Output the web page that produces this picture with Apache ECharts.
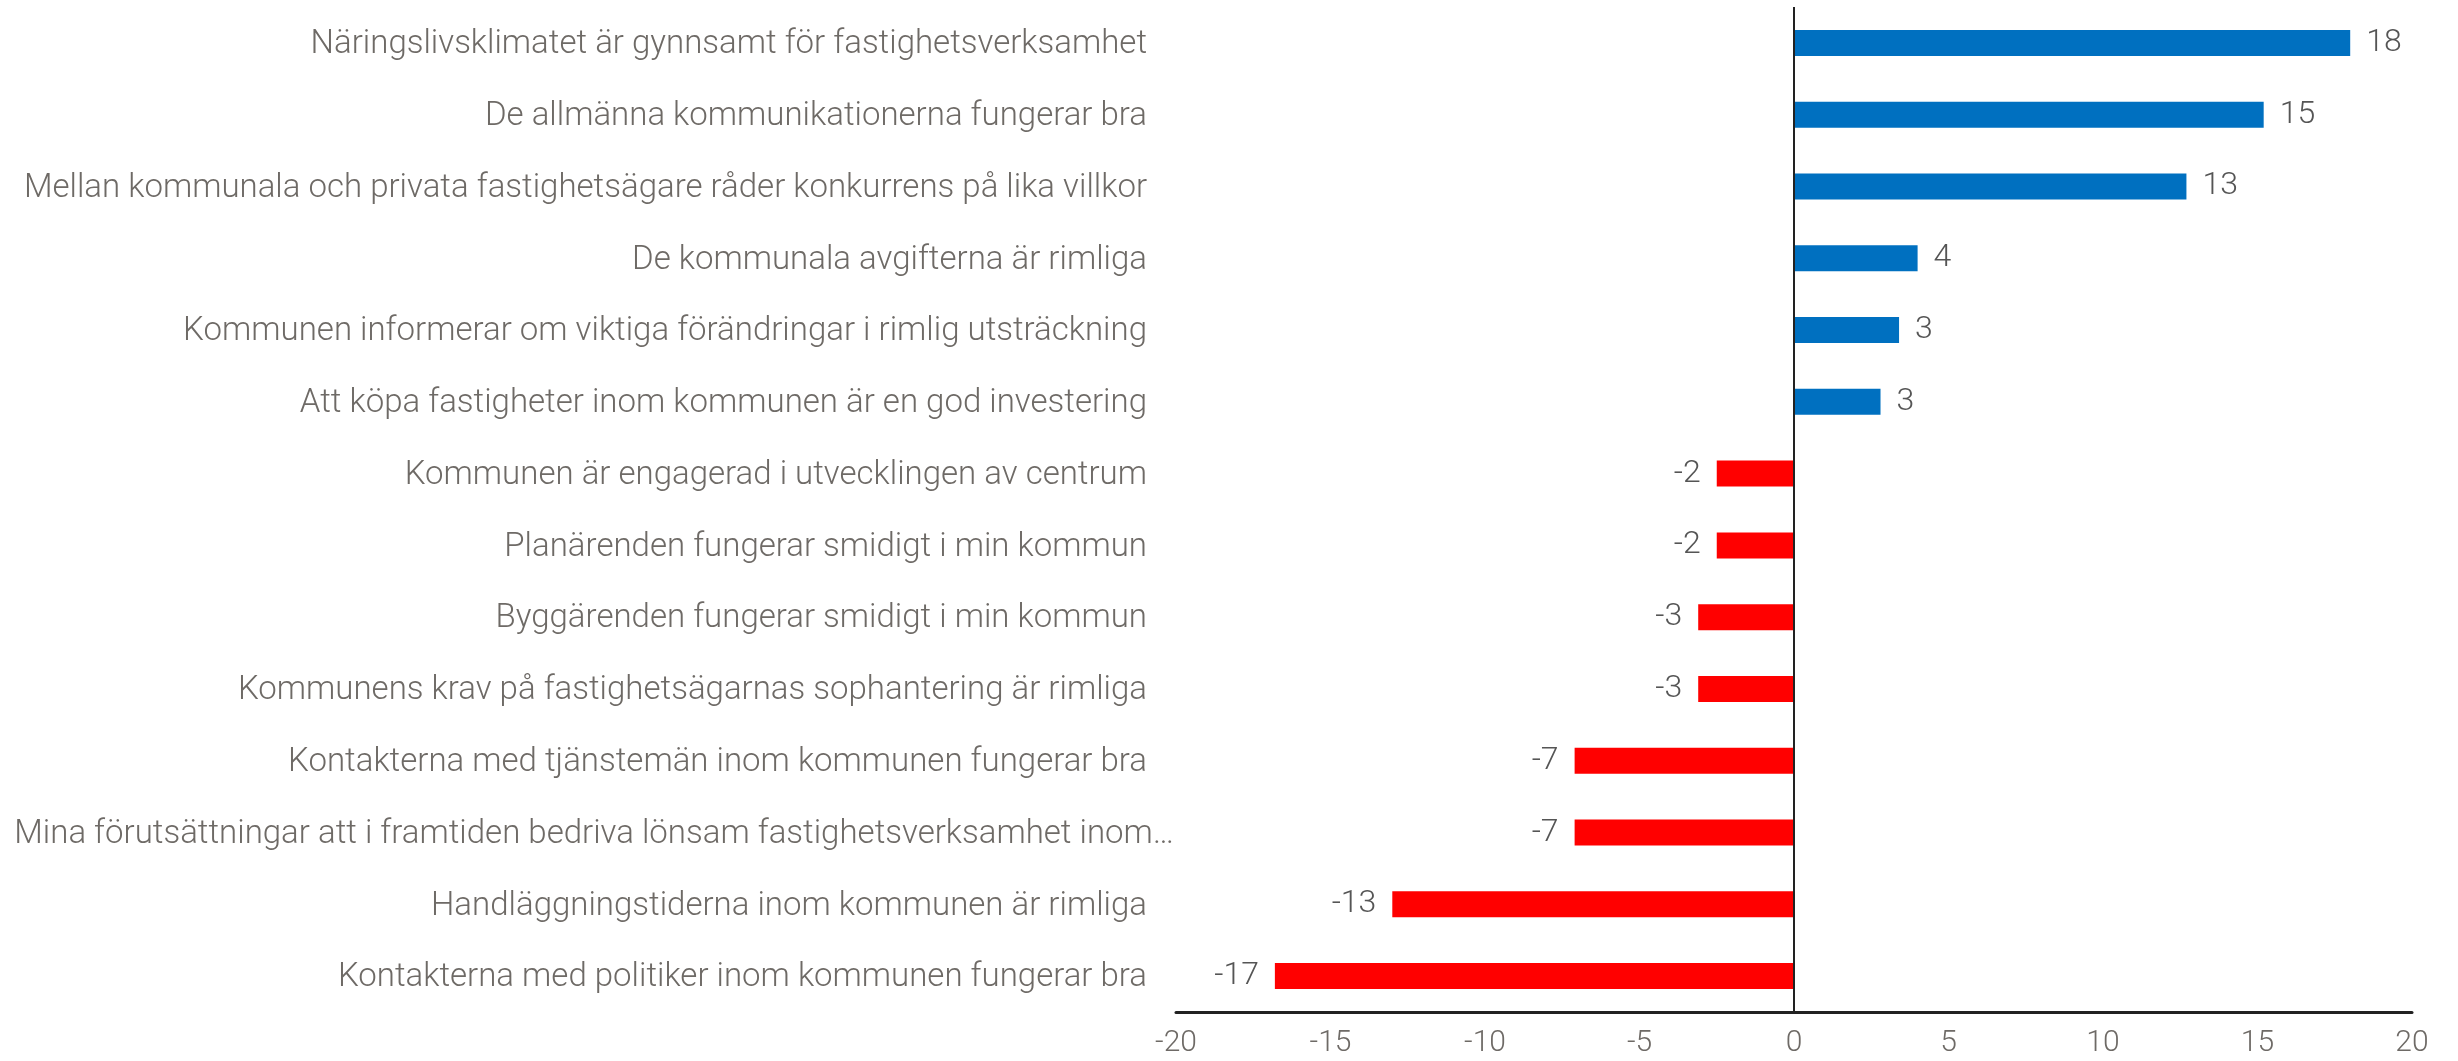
<!DOCTYPE html>
<html lang="sv">
<head>
    <meta charset="UTF-8">
    <title>Företagsklimat</title>
    <style>
        html, body {
            margin: 0;
            padding: 0;
            background: #ffffff;
        }

        #chart-canvas {
            width: 2458px;
            height: 1061px;
        }
    </style>
</head>
<body>
<div id="chart-canvas"></div>
<script src="https://cdn.jsdelivr.net/npm/echarts@6/dist/echarts.min.js"></script>
<script type="text/javascript">
    // påståenden, uppifrån och ned
    const categories = [
        "Näringslivsklimatet är gynnsamt för fastighetsverksamhet",
        "De allmänna kommunikationerna fungerar bra",
        "Mellan kommunala och privata fastighetsägare råder konkurrens på lika villkor",
        "De kommunala avgifterna är rimliga",
        "Kommunen informerar om viktiga förändringar i rimlig utsträckning",
        "Att köpa fastigheter inom kommunen är en god investering",
        "Kommunen är engagerad i utvecklingen av centrum",
        "Planärenden fungerar smidigt i min kommun",
        "Byggärenden fungerar smidigt i min kommun",
        "Kommunens krav på fastighetsägarnas sophantering är rimliga",
        "Kontakterna med tjänstemän inom kommunen fungerar bra",
        "Mina förutsättningar att i framtiden bedriva lönsam fastighetsverksamhet inom…",
        "Handläggningstiderna inom kommunen är rimliga",
        "Kontakterna med politiker inom kommunen fungerar bra"
    ];

    // nettovärden
    const values = [18, 15.2, 12.7, 4.0, 3.4, 2.8, -2.5, -2.5, -3.1, -3.1, -7.1, -7.1, -13.0, -16.8];

    const xTicks = [-20, -15, -10, -5, 0, 5, 10, 15, 20];

    const colorPos = "#0070C0";
    const colorNeg = "#FF0000";
    const labelFont = "Roboto";

    let myChart = echarts.init(document.getElementById('chart-canvas'));

    myChart.setOption({
        animation: false,
        grid: {
            left: 1176,
            right: 46,
            top: 7,
            bottom: 49
        },
        xAxis: {
            type: 'value',
            min: xTicks[0],
            max: xTicks[xTicks.length - 1],
            interval: 5,
            splitLine: {show: false},
            axisTick: {show: false},
            axisLine: {
                show: true,
                onZero: false,
                lineStyle: {color: '#222222', width: 3}
            },
            axisLabel: {
                margin: 16,
                fontFamily: labelFont,
                fontWeight: 300,
                fontSize: 30,
                color: '#6e6a66'
            }
        },
        yAxis: {
            type: 'category',
            inverse: true,
            data: categories,
            axisLine: {show: false},
            axisTick: {show: false},
            splitLine: {show: false},
            axisLabel: {
                margin: 2,
                formatter: function (v) {
                    // den avkortade etiketten sticker ut lite åt höger
                    return v.endsWith('…') ? '{w|' + v + '}' : '{n|' + v + '}';
                },
                rich: {
                    n: {
                        fontFamily: labelFont,
                        fontWeight: 300,
                        fontSize: 33,
                        color: '#6e6a66',
                        padding: [4, 27, 0, 0]
                    },
                    w: {
                        fontFamily: labelFont,
                        fontWeight: 300,
                        fontSize: 33,
                        color: '#6e6a66',
                        padding: [4, 0, 0, 0]
                    }
                }
            }
        },
        series: [
            {
                type: 'bar',
                data: values.map(v => ({
                    value: v,
                    label: {position: v < 0 ? 'left' : 'right'}
                })),
                barWidth: 26,
                itemStyle: {
                    color: function (p) {
                        return p.value >= 0 ? colorPos : colorNeg;
                    }
                },
                label: {
                    show: true,
                    distance: 16,
                    fontFamily: labelFont,
                    fontWeight: 300,
                    fontSize: 32,
                    color: '#555555',
                    formatter: function (p) {
                        return String(Math.round(p.value));
                    }
                },
                markLine: {
                    silent: true,
                    symbol: 'none',
                    label: {show: false},
                    lineStyle: {color: '#222222', width: 2, type: 'solid'},
                    data: [{xAxis: 0}]
                }
            }
        ]
    });
</script>
</body>
</html>
